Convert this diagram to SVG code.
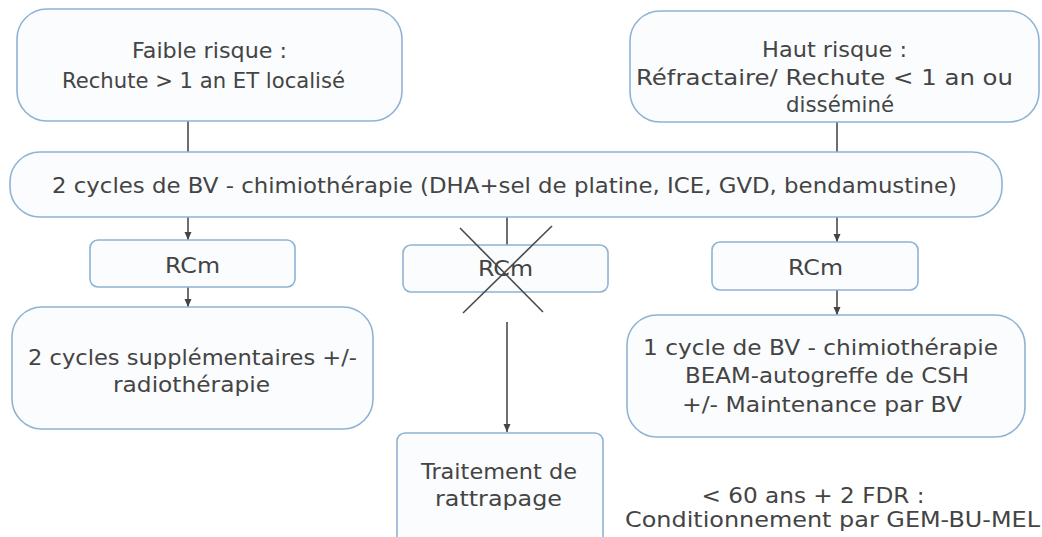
<svg xmlns="http://www.w3.org/2000/svg" width="1042" height="537" viewBox="0 0 1042 537">
  <defs>
    <marker id="arrow" viewBox="0 0 8 8" refX="8" refY="4" markerWidth="8" markerHeight="8" markerUnits="userSpaceOnUse" orient="auto">
      <path d="M0,0.5 L8,4 L0,7.5 z" fill="#444"/>
    </marker>
    <style>
      .box { fill: #fbfcfd; stroke: #8fb3d4; stroke-width: 1.6; }
      .lbl { font-family: "DejaVu Sans", "Liberation Sans", sans-serif; font-size: 22px; fill: #444; text-anchor: middle; }
      .wire { stroke: #4a4a4a; stroke-width: 1.6; fill: none; }
      .arr { marker-end: url(#arrow); }
    </style>
  </defs>
  <rect width="1042" height="537" fill="#ffffff"/>

  <!-- connectors -->
  <g id="connectors">
    <line class="wire" x1="188" y1="121" x2="188" y2="152"/>
    <line class="wire" x1="837" y1="122" x2="837" y2="152"/>
    <line class="wire arr" x1="188" y1="217" x2="188" y2="240"/>
    <line class="wire arr" x1="188" y1="287" x2="188" y2="307"/>
    <line class="wire" x1="507" y1="217" x2="507" y2="245"/>
    <line class="wire arr" x1="507" y1="322" x2="507" y2="432"/>
    <line class="wire arr" x1="837" y1="217" x2="837" y2="242"/>
    <line class="wire arr" x1="837" y1="290" x2="837" y2="315"/>
  </g>

  <g id="faible-risque">
    <rect class="box" x="17" y="9" width="385" height="112" rx="30"/>
    <text class="lbl" x="209.5" y="58" textLength="155" lengthAdjust="spacingAndGlyphs">Faible risque :</text>
    <text class="lbl" x="203.5" y="88" textLength="283" lengthAdjust="spacingAndGlyphs">Rechute &gt; 1 an ET localisé</text>
  </g>

  <g id="haut-risque">
    <rect class="box" x="630" y="11" width="409" height="111" rx="30"/>
    <text class="lbl" x="834.5" y="57" textLength="145" lengthAdjust="spacingAndGlyphs">Haut risque :</text>
    <text class="lbl" x="824.5" y="85" textLength="377" lengthAdjust="spacingAndGlyphs">Réfractaire/ Rechute &lt; 1 an ou</text>
    <text class="lbl" x="840" y="112" textLength="108" lengthAdjust="spacingAndGlyphs">disséminé</text>
  </g>

  <g id="chimio">
    <rect class="box" x="10" y="152" width="992" height="65" rx="30"/>
    <text class="lbl" x="504.5" y="193" textLength="905" lengthAdjust="spacingAndGlyphs">2 cycles de BV - chimiothérapie (DHA+sel de platine, ICE, GVD, bendamustine)</text>
  </g>

  <g id="rcm-gauche">
    <rect class="box" x="90" y="240" width="205" height="47" rx="8"/>
    <text class="lbl" x="192.5" y="273" textLength="55" lengthAdjust="spacingAndGlyphs">RCm</text>
  </g>

  <g id="rcm-milieu">
    <rect class="box" x="403" y="245" width="205" height="47" rx="8"/>
    <text class="lbl" x="505.5" y="276" textLength="55" lengthAdjust="spacingAndGlyphs">RCm</text>
    <line class="wire" x1="460" y1="228" x2="543" y2="312"/>
    <line class="wire" x1="552" y1="226" x2="463" y2="313"/>
  </g>

  <g id="rcm-droite">
    <rect class="box" x="712" y="242" width="206" height="48" rx="8"/>
    <text class="lbl" x="815.5" y="275" textLength="55" lengthAdjust="spacingAndGlyphs">RCm</text>
  </g>

  <g id="cycles-supp">
    <rect class="box" x="12" y="307" width="361" height="122" rx="30"/>
    <text class="lbl" x="192.5" y="365" textLength="329" lengthAdjust="spacingAndGlyphs">2 cycles supplémentaires +/-</text>
    <text class="lbl" x="191.5" y="392" textLength="157" lengthAdjust="spacingAndGlyphs">radiothérapie</text>
  </g>

  <g id="rattrapage">
    <rect class="box" x="397" y="433" width="206" height="120" rx="8"/>
    <text class="lbl" x="499" y="479" textLength="156" lengthAdjust="spacingAndGlyphs">Traitement de</text>
    <text class="lbl" x="498.5" y="506" textLength="127" lengthAdjust="spacingAndGlyphs">rattrapage</text>
  </g>

  <g id="autogreffe">
    <rect class="box" x="627" y="315" width="398" height="122" rx="30"/>
    <text class="lbl" x="820.5" y="355" textLength="355" lengthAdjust="spacingAndGlyphs">1 cycle de BV - chimiothérapie</text>
    <text class="lbl" x="827" y="383" textLength="284" lengthAdjust="spacingAndGlyphs">BEAM-autogreffe de CSH</text>
    <text class="lbl" x="822" y="412" textLength="280" lengthAdjust="spacingAndGlyphs">+/- Maintenance par BV</text>
  </g>

  <g id="note-conditionnement">
    <text class="lbl" x="813" y="503" textLength="223" lengthAdjust="spacingAndGlyphs">&lt; 60 ans + 2 FDR :</text>
    <text class="lbl" x="832.5" y="527" textLength="415" lengthAdjust="spacingAndGlyphs">Conditionnement par GEM-BU-MEL</text>
  </g>
</svg>
